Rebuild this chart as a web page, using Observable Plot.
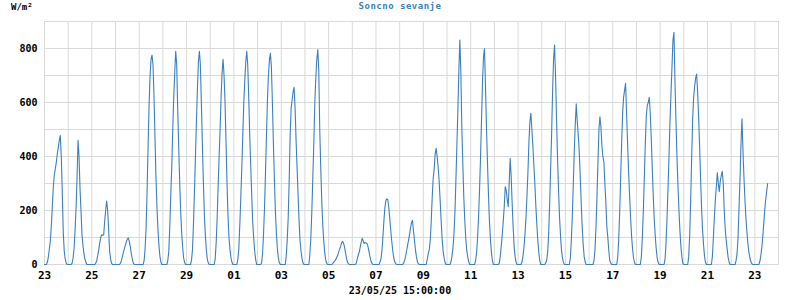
<!DOCTYPE html>
<html>
<head>
<meta charset="utf-8">
<script src="https://cdn.jsdelivr.net/npm/d3@7"></script>
<script src="https://cdn.jsdelivr.net/npm/@observablehq/plot@0.6"></script>
<style>
  html, body { margin: 0; padding: 0; background: #fff; }
  #wrap { position: relative; width: 800px; height: 300px; overflow: hidden; }
  .lbl { position: absolute; font-family: "DejaVu Sans Mono", monospace; font-weight: bold; white-space: pre; line-height: 12px; }
</style>
</head>
<body>
<div id="wrap">
  <div class="lbl" style="left:11px;top:1px;font-size:9px;color:#000;">W/m²</div>
  <div class="lbl" style="left:0;width:800px;top:0px;text-align:center;font-size:9px;letter-spacing:0.5px;color:#3b7fbf;">Soncno sevanje</div>
  <div class="lbl" style="left:0;width:800px;top:285px;text-align:center;font-size:10px;color:#000;">23/05/25 15:00:00</div>
</div>
<script>
// Hourly solar radiation (W/m²), hours 0..23 of each day
const apr23 = [0,0,0,10,30,60,90,150,220,290,335,355,380,410,435,460,478,400,270,120,50,20,5,0];
const apr24 = [0,0,0,0,5,25,60,130,210,320,460,400,280,200,110,70,40,20,8,0,0,0,0,0];
const apr25 = [0,0,0,0,5,15,35,55,80,100,110,108,110,160,200,235,200,130,50,20,5,0,0,0];
const apr26 = [0,0,0,0,0,5,15,30,45,60,72,85,95,98,85,65,40,20,5,0,0,0,0,0];
const apr27 = [0,0,0,0,0,15,60,140,270,440,590,700,760,775,740,620,470,320,210,130,70,30,8,0];
const apr28 = [0,0,0,0,0,15,50,140,260,360,500,620,710,790,740,580,440,310,200,120,65,25,8,0];
const apr29 = [0,0,0,0,0,15,55,150,270,400,530,650,750,790,740,600,450,310,190,110,55,20,6,0];
const apr30 = [0,0,0,0,0,20,80,170,290,400,500,620,710,760,700,600,450,300,180,100,55,25,8,0];
const may01 = [0,0,0,0,20,60,150,250,360,480,600,680,750,790,740,620,480,370,260,160,100,50,20,0];
const may02 = [0,0,0,0,5,40,110,210,340,480,610,700,760,782,730,600,450,320,200,120,60,25,8,0];
const may03 = [0,0,0,0,0,30,90,170,310,480,580,610,640,656,580,460,360,260,165,90,50,22,6,0];
const may04 = [0,0,0,0,0,40,100,200,325,450,600,690,760,796,720,500,360,240,150,90,45,18,5,0];
const may05 = [0,0,0,0,3,8,12,17,25,32,45,55,65,77,86,80,67,46,25,10,3,0,0,0];
const may06 = [0,0,0,0,5,20,35,45,64,83,97,88,78,82,80,77,64,46,27,12,4,0,0,0];
const may07 = [0,0,0,0,8,20,50,100,160,210,237,243,240,210,170,125,85,50,25,10,3,0,0,0];
const may08 = [0,0,0,0,5,15,30,50,70,90,110,135,155,164,125,90,55,28,10,3,0,0,0,0];
const may09 = [0,0,0,0,20,40,55,90,160,250,320,355,410,430,400,360,310,240,165,96,50,25,8,0];
const may10 = [0,0,0,0,10,30,60,110,190,310,440,570,720,831,714,510,374,251,164,96,53,28,10,0];
const may11 = [0,0,0,0,0,15,45,100,180,280,400,540,680,770,800,660,510,380,260,160,95,45,15,0];
const may12 = [0,0,0,0,0,5,30,70,110,160,214,288,275,240,214,300,393,330,230,140,70,30,8,0];
const may13 = [0,0,0,0,10,30,65,110,170,250,340,450,530,560,500,440,370,300,220,150,90,45,15,0];
const may14 = [0,0,0,0,5,15,45,110,220,350,480,640,760,813,700,540,400,280,180,110,55,25,8,0];
const may15 = [0,0,0,0,0,25,90,180,300,420,520,595,530,480,420,330,230,140,75,30,10,0,0,0];
const may16 = [0,0,0,0,0,15,55,140,250,380,500,547,510,440,400,380,300,230,140,100,50,15,5,0];
const may17 = [0,0,0,0,0,25,90,190,320,450,560,620,646,671,560,450,350,260,180,110,60,25,8,0];
const may18 = [0,0,0,0,0,30,100,200,320,450,550,590,600,619,560,470,360,260,170,110,60,25,8,0];
const may19 = [0,0,0,0,0,20,80,170,280,400,530,630,730,830,860,690,540,410,300,210,130,70,30,5];
const may20 = [0,0,0,0,0,30,110,240,400,540,620,660,690,705,640,550,440,320,210,130,75,30,8,0];
const may21 = [0,0,0,0,0,30,100,175,240,290,340,300,270,310,330,345,300,200,130,90,55,25,8,0];
const may22 = [0,0,0,0,0,15,40,100,210,320,450,540,420,320,240,170,120,75,45,25,10,3,0,0];
const may23 = [0,0,0,0,0,10,30,60,100,150,200,240,270,300];

const days = [apr23, apr24, apr25, apr26, apr27, apr28, apr29, apr30,
  may01, may02, may03, may04, may05, may06, may07, may08, may09, may10,
  may11, may12, may13, may14, may15, may16, may17, may18, may19, may20,
  may21, may22, may23];

const startDay = "2025-04-23";
const endDay = "2025-05-24";
const xTickDays = ["2025-04-23","2025-04-25","2025-04-27","2025-04-29","2025-05-01","2025-05-03",
  "2025-05-05","2025-05-07","2025-05-09","2025-05-11","2025-05-13","2025-05-15","2025-05-17",
  "2025-05-19","2025-05-21","2025-05-23"];
const yTicks = [0, 200, 400, 600, 800];
const yGrid = [0, 100, 200, 300, 400, 500, 600, 700, 800, 900];

const t0 = new Date(startDay + "T00:00:00Z");
const t1 = new Date(endDay + "T00:00:00Z");
const rows = [];
days.forEach((vals, d) => vals.forEach((v, h) => {
  rows.push({t: new Date(t0.getTime() + (d * 24 + h) * 3600e3), v});
}));
const tickDates = xTickDays.map(s => new Date(s + "T00:00:00Z"));
const dayGrid = d3.utcDay.range(t0, t1);

const chart = Plot.plot({
  width: 800,
  height: 300,
  marginLeft: 44,
  marginRight: 22,
  marginTop: 21,
  marginBottom: 36,
  style: "font-family: 'DejaVu Sans Mono', monospace; font-size: 10px; font-weight: bold; color: #000; background: transparent;",
  x: {type: "utc", domain: [t0, t1]},
  y: {domain: [0, 900]},
  marks: [
    Plot.gridX(dayGrid, {stroke: "#d9d9d9", strokeOpacity: 1, strokeWidth: 1}),
    Plot.gridY(yGrid, {stroke: "#d9d9d9", strokeOpacity: 1, strokeWidth: 1}),
    Plot.frame({stroke: "#d9d9d9", strokeWidth: 1}),
    Plot.lineY(rows, {x: "t", y: "v", stroke: "#3b7fbf", strokeWidth: 1.1}),
    Plot.axisX(tickDates, {tickSize: 0, tickPadding: 7, tickFormat: d3.utcFormat("%d"), label: null, fontWeight: "bold", fontSize: 11}),
    Plot.axisY(yTicks, {tickSize: 0, tickPadding: 7, label: null, fontWeight: "bold", fontSize: 10})
  ]
});
chart.style.position = "absolute";
chart.style.left = "0";
chart.style.top = "0";
document.getElementById("wrap").prepend(chart);
</script>
</body>
</html>
